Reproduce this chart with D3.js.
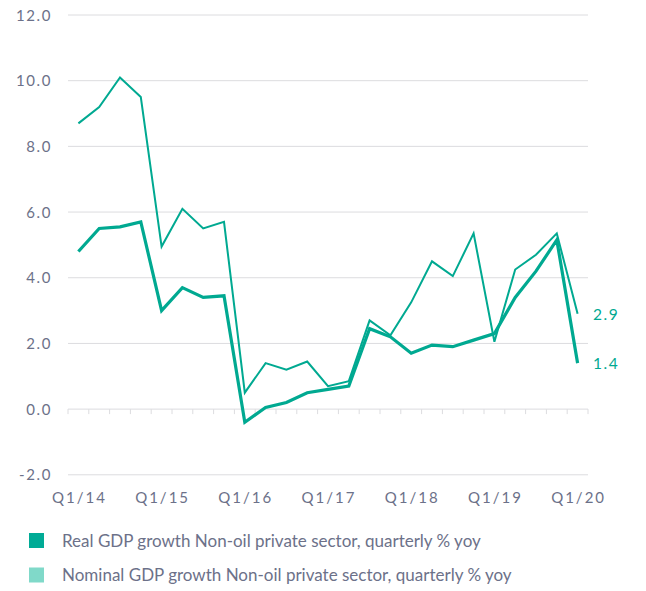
<!DOCTYPE html>
<html>
<head>
<meta charset="utf-8">
<script src="https://cdn.jsdelivr.net/npm/d3@7"></script>
<style>
  body { margin: 0; background: #fff; }
  svg text { font-family: Lato, "Open Sans", sans-serif; fill: #6c7189; }
</style>
</head>
<body>
<div id="chart"></div>
<script>
// quartale Q1/14 .. Q1/20
const quarters = [];
for (let y = 14; y <= 20; y++) {
  for (let q = 1; q <= 4; q++) {
    if (y === 20 && q > 1) break;
    quarters.push("Q" + q + "/" + y);
  }
}

const realGrowth = [4.8, 5.5, 5.55, 5.7, 3.0, 3.7, 3.4, 3.45, -0.4, 0.05, 0.2, 0.5, 0.6,
  0.7, 2.45, 2.2, 1.7, 1.95, 1.9, 2.1, 2.3, 3.4, 4.2, 5.15, 1.4];
const nominalGrowth = [8.7, 9.2, 10.1, 9.5, 4.95, 6.1, 5.5, 5.7, 0.5, 1.4, 1.2, 1.45, 0.7,
  0.85, 2.7, 2.25, 3.25, 4.5, 4.05, 5.35, 2.05, 4.25, 4.7, 5.35, 2.9];

const yTicks = [-2, 0, 2, 4, 6, 8, 10, 12];
const legendLabels = [
  "Real GDP growth Non-oil private sector, quarterly % yoy",
  "Nominal GDP growth Non-oil private sector, quarterly % yoy"
];

const lineColor = "#00a991";
const legendColors = ["#00ab96", "#80d9c9"];

const svg = d3.select("#chart").append("svg")
  .attr("width", 646)
  .attr("height", 591);

const x = d3.scaleBand().domain(quarters).range([68, 588]);
const y = d3.scaleLinear().domain([-2, 12]).range([474.8, 15]);

// gitterlinien
svg.append("g")
  .selectAll("line")
  .data(yTicks)
  .enter().append("line")
  .attr("x1", 68).attr("x2", 588)
  .attr("y1", d => y(d)).attr("y2", d => y(d))
  .attr("stroke", "#dcdcdf")
  .attr("stroke-width", 1);

// y-achse beschriftung
svg.append("g")
  .selectAll("text")
  .data(yTicks)
  .enter().append("text")
  .attr("x", 52)
  .attr("y", d => y(d) + 5.5)
  .attr("text-anchor", "end")
  .style("font-size", "15px")
  .style("letter-spacing", "1.6px")
  .text(d => d.toFixed(1));

// ticks auf der nulllinie
const bounds = quarters.map(q => x(q)).concat([588]);
svg.append("g")
  .selectAll("line")
  .data(bounds)
  .enter().append("line")
  .attr("x1", d => d).attr("x2", d => d)
  .attr("y1", y(0)).attr("y2", y(0) + 5)
  .attr("stroke", "#dcdcdf");

// x-achse beschriftung
svg.append("g")
  .selectAll("text")
  .data(quarters.filter(q => q.startsWith("Q1")))
  .enter().append("text")
  .attr("x", d => x(d) + x.bandwidth() / 2 + 1)
  .attr("y", 503)
  .attr("text-anchor", "middle")
  .style("font-size", "15px")
  .style("letter-spacing", "2px")
  .text(d => d);

const line = d3.line()
  .x((d, i) => x(quarters[i]) + x.bandwidth() / 2)
  .y(d => y(d));

svg.append("path")
  .datum(nominalGrowth)
  .attr("d", line)
  .attr("fill", "none")
  .attr("stroke", lineColor)
  .attr("stroke-width", 2)
  .attr("stroke-linejoin", "miter");

svg.append("path")
  .datum(realGrowth)
  .attr("d", line)
  .attr("fill", "none")
  .attr("stroke", lineColor)
  .attr("stroke-width", 3.2)
  .attr("stroke-linejoin", "miter");

// endwerte
const last = quarters.length - 1;
[nominalGrowth[last], realGrowth[last]].forEach(v => {
  svg.append("text")
    .attr("x", 593)
    .attr("y", y(v) + 6)
    .style("font-size", "15.5px")
    .style("letter-spacing", "1.6px")
    .style("fill", lineColor)
    .text(v.toFixed(1));
});

// legende
const legend = svg.append("g");
legendLabels.forEach((lab, i) => {
  legend.append("rect")
    .attr("x", 29).attr("y", 533 + i * 34.5)
    .attr("width", 15).attr("height", 15)
    .attr("fill", legendColors[i]);
  legend.append("text")
    .attr("x", 62).attr("y", 546.5 + i * 34.5)
    .style("font-size", "17px")
    .text(lab);
});
</script>
</body>
</html>
